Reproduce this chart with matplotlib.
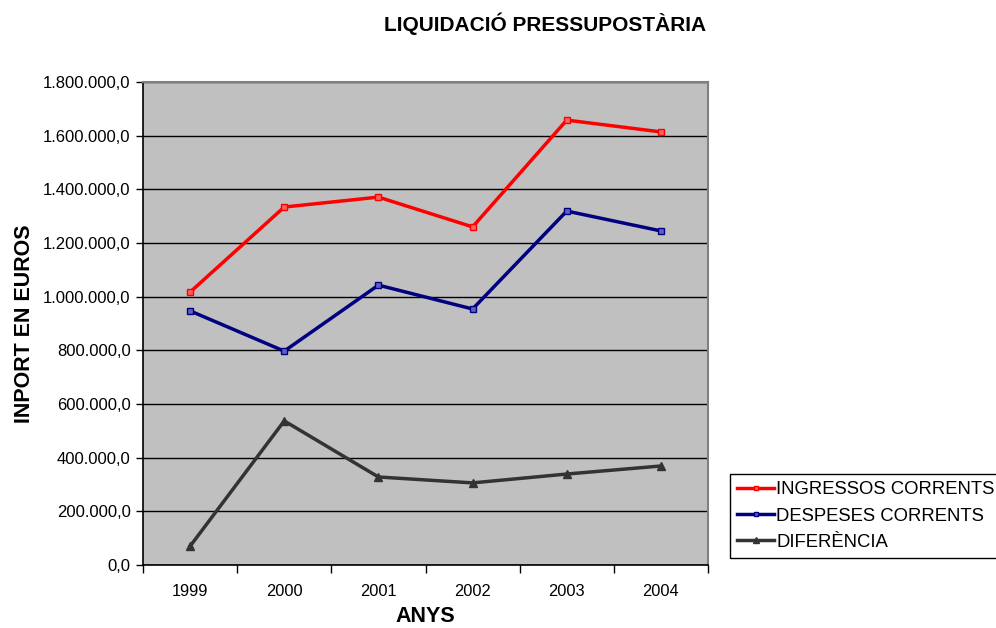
import matplotlib
matplotlib.use("Agg")
import matplotlib.pyplot as plt
from matplotlib.ticker import FuncFormatter, MultipleLocator, FixedLocator

plt.rcParams['font.family'] = ['Liberation Sans', 'DejaVu Sans']

years = ["1999", "2000", "2001", "2002", "2003", "2004"]
ingressos = [1017000, 1334000, 1371000, 1260000, 1658000, 1614000]
despeses = [947000, 797000, 1043000, 954000, 1319000, 1245000]
diferencia = [70000, 537000, 328000, 306000, 339000, 369000]

fig = plt.figure(figsize=(9.96, 6.28), dpi=100)
ax = fig.add_axes([143/996, 1-565/628, (708-143)/996, (565-82)/628])
ax.set_facecolor('#c0c0c0')

x = list(range(len(years)))
ax.plot(x, ingressos, color='#ff0000', lw=2.5, marker='s', ms=4, mfc='#ff6060', mec='#ff0000', mew=1, label='INGRESSOS CORRENTS')
ax.plot(x, despeses, color='#000080', lw=2.5, marker='s', ms=4, mfc='#6060c0', mec='#000080', mew=1, label='DESPESES CORRENTS')
ax.plot(x, diferencia, color='#333333', lw=2.5, marker='^', ms=6, mfc='#333333', mec='#333333', label='DIFERÈNCIA')

ax.set_xlim(-0.5, len(years)-0.5)
ax.set_ylim(0, 1800000)
ax.yaxis.set_major_locator(MultipleLocator(200000))
def fmt(v, p):
    s = f"{int(round(v)):,}".replace(",", ".")
    return s + ",0"
ax.yaxis.set_major_formatter(FuncFormatter(fmt))
ax.grid(axis='y', color='black', lw=1)
ax.set_axisbelow(True)

ax.set_xticks(x)
ax.set_xticklabels(years)
ax.tick_params(axis='x', which='major', length=0, pad=14, labelsize=11.8)
ax.xaxis.set_minor_locator(FixedLocator([i-0.5 for i in range(len(years)+1)]))
ax.tick_params(axis='x', which='minor', length=6, direction='out', width=1)
ax.tick_params(axis='y', length=5, direction='out', labelsize=12, width=1, pad=4)

for s in ['top', 'right']:
    ax.spines[s].set_color('#808080')
    ax.spines[s].set_linewidth(1.5)
ax.spines['left'].set_color('black')
ax.spines['bottom'].set_color('black')
ax.spines['left'].set_linewidth(1.2)
ax.spines['bottom'].set_linewidth(1.2)

ax.set_xlabel('ANYS', fontsize=15.5, fontweight='bold', labelpad=5)
ax.set_ylabel('INPORT EN EUROS', fontsize=15.5, fontweight='bold', labelpad=6)
fig.text(545/996, 1-24/628, 'LIQUIDACIÓ PRESSUPOSTÀRIA', ha='center', va='center', fontsize=15, fontweight='bold')

leg = fig.legend(loc='upper left', bbox_to_anchor=(730/996, 1-474/628), fontsize=13.3,
                 frameon=True, fancybox=False, edgecolor='black', framealpha=1,
                 handlelength=2.0, handletextpad=0.1, borderpad=0.4, labelspacing=0.5, borderaxespad=0,
                 markerscale=0.7)
leg.get_frame().set_linewidth(1)

fig.savefig('out.png', dpi=100)
